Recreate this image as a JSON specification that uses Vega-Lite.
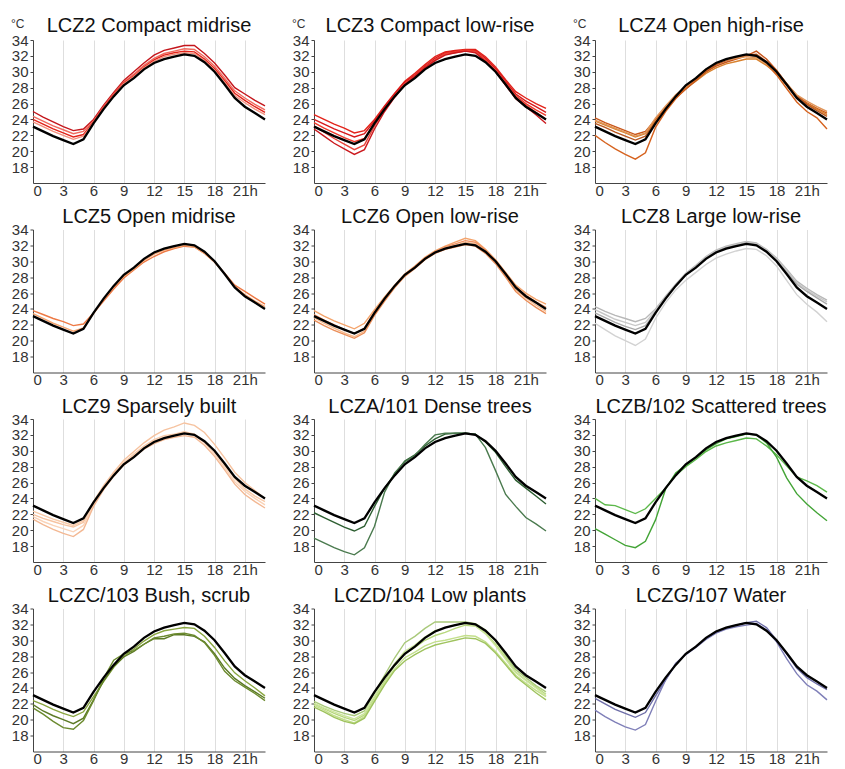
{
  "$schema": "https://vega.github.io/schema/vega-lite/v6.json",
  "background": "white",
  "padding": {"left": 11, "top": 16, "right": 0, "bottom": 0},
  "columns": 3,
  "spacing": {"row": 8.5, "column": 22},
  "resolve": {"scale": {"color": "independent"}},
  "config": {
    "view": {"stroke": null},
    "font": "Liberation Sans",
    "title": {"fontSize": 20, "fontWeight": "normal", "color": "#111", "offset": -4.5},
    "axis": {"labelFontSize": 15, "labelColor": "#333", "domainColor": "#444", "tickColor": "#444", "labelPadding": 2, "title": null},
    "axisX": {"grid": true, "gridColor": "#dedede", "ticks": false, "labelPadding": 0},
    "axisY": {"grid": false, "tickSize": 3},
    "line": {"strokeWidth": 1.4}
  },
  "datasets": {
    "ref": [{"h":0,"t":23.1},{"h":1,"t":22.5},{"h":2,"t":21.9},{"h":3,"t":21.4},{"h":4,"t":20.9},{"h":5,"t":21.5},{"h":6,"t":23.5},{"h":7,"t":25.3},{"h":8,"t":26.9},{"h":9,"t":28.3},{"h":10,"t":29.2},{"h":11,"t":30.3},{"h":12,"t":31.1},{"h":13,"t":31.6},{"h":14,"t":31.9},{"h":15,"t":32.2},{"h":16,"t":32.0},{"h":17,"t":31.2},{"h":18,"t":30.0},{"h":19,"t":28.4},{"h":20,"t":26.7},{"h":21,"t":25.6},{"h":22,"t":24.8},{"h":23,"t":24.0}],
    "unit": [{"u": "°C", "ux": 0, "uy": 34}],
    "st": [
{"z":"2","s":"2a","h":0,"t":25.0},{"z":"2","s":"2a","h":1,"t":24.3},{"z":"2","s":"2a","h":2,"t":23.7},{"z":"2","s":"2a","h":3,"t":23.1},{"z":"2","s":"2a","h":4,"t":22.6},{"z":"2","s":"2a","h":5,"t":22.8},{"z":"2","s":"2a","h":6,"t":24.0},{"z":"2","s":"2a","h":7,"t":25.8},{"z":"2","s":"2a","h":8,"t":27.4},{"z":"2","s":"2a","h":9,"t":28.9},{"z":"2","s":"2a","h":10,"t":30.0},{"z":"2","s":"2a","h":11,"t":31.1},{"z":"2","s":"2a","h":12,"t":32.1},{"z":"2","s":"2a","h":13,"t":32.7},{"z":"2","s":"2a","h":14,"t":33.0},{"z":"2","s":"2a","h":15,"t":33.3},{"z":"2","s":"2a","h":16,"t":33.3},{"z":"2","s":"2a","h":17,"t":32.3},{"z":"2","s":"2a","h":18,"t":31.1},{"z":"2","s":"2a","h":19,"t":29.6},{"z":"2","s":"2a","h":20,"t":28.0},{"z":"2","s":"2a","h":21,"t":27.2},{"z":"2","s":"2a","h":22,"t":26.4},{"z":"2","s":"2a","h":23,"t":25.7},
{"z":"2","s":"2b","h":0,"t":24.4},{"z":"2","s":"2b","h":1,"t":23.8},{"z":"2","s":"2b","h":2,"t":23.2},{"z":"2","s":"2b","h":3,"t":22.7},{"z":"2","s":"2b","h":4,"t":22.2},{"z":"2","s":"2b","h":5,"t":22.5},{"z":"2","s":"2b","h":6,"t":23.8},{"z":"2","s":"2b","h":7,"t":25.6},{"z":"2","s":"2b","h":8,"t":27.2},{"z":"2","s":"2b","h":9,"t":28.7},{"z":"2","s":"2b","h":10,"t":29.7},{"z":"2","s":"2b","h":11,"t":30.8},{"z":"2","s":"2b","h":12,"t":31.7},{"z":"2","s":"2b","h":13,"t":32.3},{"z":"2","s":"2b","h":14,"t":32.6},{"z":"2","s":"2b","h":15,"t":32.9},{"z":"2","s":"2b","h":16,"t":32.8},{"z":"2","s":"2b","h":17,"t":31.9},{"z":"2","s":"2b","h":18,"t":30.7},{"z":"2","s":"2b","h":19,"t":29.2},{"z":"2","s":"2b","h":20,"t":27.6},{"z":"2","s":"2b","h":21,"t":26.7},{"z":"2","s":"2b","h":22,"t":25.9},{"z":"2","s":"2b","h":23,"t":25.2},
{"z":"2","s":"2c","h":0,"t":24.0},{"z":"2","s":"2c","h":1,"t":23.4},{"z":"2","s":"2c","h":2,"t":22.8},{"z":"2","s":"2c","h":3,"t":22.3},{"z":"2","s":"2c","h":4,"t":21.8},{"z":"2","s":"2c","h":5,"t":22.1},{"z":"2","s":"2c","h":6,"t":23.7},{"z":"2","s":"2c","h":7,"t":25.5},{"z":"2","s":"2c","h":8,"t":27.1},{"z":"2","s":"2c","h":9,"t":28.6},{"z":"2","s":"2c","h":10,"t":29.5},{"z":"2","s":"2c","h":11,"t":30.6},{"z":"2","s":"2c","h":12,"t":31.5},{"z":"2","s":"2c","h":13,"t":32.1},{"z":"2","s":"2c","h":14,"t":32.4},{"z":"2","s":"2c","h":15,"t":32.6},{"z":"2","s":"2c","h":16,"t":32.5},{"z":"2","s":"2c","h":17,"t":31.6},{"z":"2","s":"2c","h":18,"t":30.4},{"z":"2","s":"2c","h":19,"t":28.9},{"z":"2","s":"2c","h":20,"t":27.3},{"z":"2","s":"2c","h":21,"t":26.4},{"z":"2","s":"2c","h":22,"t":25.6},{"z":"2","s":"2c","h":23,"t":24.9},
{"z":"2","s":"2d","h":0,"t":23.7},{"z":"2","s":"2d","h":1,"t":23.1},{"z":"2","s":"2d","h":2,"t":22.5},{"z":"2","s":"2d","h":3,"t":22.0},{"z":"2","s":"2d","h":4,"t":21.5},{"z":"2","s":"2d","h":5,"t":21.9},{"z":"2","s":"2d","h":6,"t":23.6},{"z":"2","s":"2d","h":7,"t":25.4},{"z":"2","s":"2d","h":8,"t":27.0},{"z":"2","s":"2d","h":9,"t":28.5},{"z":"2","s":"2d","h":10,"t":29.4},{"z":"2","s":"2d","h":11,"t":30.5},{"z":"2","s":"2d","h":12,"t":31.3},{"z":"2","s":"2d","h":13,"t":31.9},{"z":"2","s":"2d","h":14,"t":32.2},{"z":"2","s":"2d","h":15,"t":32.4},{"z":"2","s":"2d","h":16,"t":32.3},{"z":"2","s":"2d","h":17,"t":31.4},{"z":"2","s":"2d","h":18,"t":30.2},{"z":"2","s":"2d","h":19,"t":28.7},{"z":"2","s":"2d","h":20,"t":27.0},{"z":"2","s":"2d","h":21,"t":26.1},{"z":"2","s":"2d","h":22,"t":25.3},{"z":"2","s":"2d","h":23,"t":24.6},
{"z":"3","s":"3a","h":0,"t":24.6},{"z":"3","s":"3a","h":1,"t":24.0},{"z":"3","s":"3a","h":2,"t":23.4},{"z":"3","s":"3a","h":3,"t":22.9},{"z":"3","s":"3a","h":4,"t":22.3},{"z":"3","s":"3a","h":5,"t":22.6},{"z":"3","s":"3a","h":6,"t":24.0},{"z":"3","s":"3a","h":7,"t":25.7},{"z":"3","s":"3a","h":8,"t":27.3},{"z":"3","s":"3a","h":9,"t":28.8},{"z":"3","s":"3a","h":10,"t":29.8},{"z":"3","s":"3a","h":11,"t":30.9},{"z":"3","s":"3a","h":12,"t":31.9},{"z":"3","s":"3a","h":13,"t":32.5},{"z":"3","s":"3a","h":14,"t":32.7},{"z":"3","s":"3a","h":15,"t":32.8},{"z":"3","s":"3a","h":16,"t":32.8},{"z":"3","s":"3a","h":17,"t":31.9},{"z":"3","s":"3a","h":18,"t":30.6},{"z":"3","s":"3a","h":19,"t":29.0},{"z":"3","s":"3a","h":20,"t":27.5},{"z":"3","s":"3a","h":21,"t":26.7},{"z":"3","s":"3a","h":22,"t":26.0},{"z":"3","s":"3a","h":23,"t":25.4},
{"z":"3","s":"3b","h":0,"t":24.0},{"z":"3","s":"3b","h":1,"t":23.4},{"z":"3","s":"3b","h":2,"t":22.8},{"z":"3","s":"3b","h":3,"t":22.3},{"z":"3","s":"3b","h":4,"t":21.8},{"z":"3","s":"3b","h":5,"t":22.2},{"z":"3","s":"3b","h":6,"t":23.8},{"z":"3","s":"3b","h":7,"t":25.6},{"z":"3","s":"3b","h":8,"t":27.2},{"z":"3","s":"3b","h":9,"t":28.7},{"z":"3","s":"3b","h":10,"t":29.6},{"z":"3","s":"3b","h":11,"t":30.7},{"z":"3","s":"3b","h":12,"t":31.7},{"z":"3","s":"3b","h":13,"t":32.4},{"z":"3","s":"3b","h":14,"t":32.6},{"z":"3","s":"3b","h":15,"t":32.7},{"z":"3","s":"3b","h":16,"t":32.7},{"z":"3","s":"3b","h":17,"t":31.7},{"z":"3","s":"3b","h":18,"t":30.4},{"z":"3","s":"3b","h":19,"t":28.8},{"z":"3","s":"3b","h":20,"t":27.2},{"z":"3","s":"3b","h":21,"t":26.3},{"z":"3","s":"3b","h":22,"t":25.6},{"z":"3","s":"3b","h":23,"t":24.9},
{"z":"3","s":"3c","h":0,"t":23.6},{"z":"3","s":"3c","h":1,"t":22.9},{"z":"3","s":"3c","h":2,"t":22.3},{"z":"3","s":"3c","h":3,"t":21.7},{"z":"3","s":"3c","h":4,"t":21.2},{"z":"3","s":"3c","h":5,"t":21.6},{"z":"3","s":"3c","h":6,"t":23.6},{"z":"3","s":"3c","h":7,"t":25.4},{"z":"3","s":"3c","h":8,"t":27.0},{"z":"3","s":"3c","h":9,"t":28.5},{"z":"3","s":"3c","h":10,"t":29.5},{"z":"3","s":"3c","h":11,"t":30.6},{"z":"3","s":"3c","h":12,"t":31.5},{"z":"3","s":"3c","h":13,"t":32.3},{"z":"3","s":"3c","h":14,"t":32.5},{"z":"3","s":"3c","h":15,"t":32.7},{"z":"3","s":"3c","h":16,"t":32.6},{"z":"3","s":"3c","h":17,"t":31.5},{"z":"3","s":"3c","h":18,"t":30.2},{"z":"3","s":"3c","h":19,"t":28.6},{"z":"3","s":"3c","h":20,"t":27.0},{"z":"3","s":"3c","h":21,"t":26.0},{"z":"3","s":"3c","h":22,"t":25.2},{"z":"3","s":"3c","h":23,"t":24.5},
{"z":"3","s":"3d","h":0,"t":23.2},{"z":"3","s":"3d","h":1,"t":22.4},{"z":"3","s":"3d","h":2,"t":21.6},{"z":"3","s":"3d","h":3,"t":20.9},{"z":"3","s":"3d","h":4,"t":20.2},{"z":"3","s":"3d","h":5,"t":20.8},{"z":"3","s":"3d","h":6,"t":23.2},{"z":"3","s":"3d","h":7,"t":25.2},{"z":"3","s":"3d","h":8,"t":26.9},{"z":"3","s":"3d","h":9,"t":28.5},{"z":"3","s":"3d","h":10,"t":29.4},{"z":"3","s":"3d","h":11,"t":30.5},{"z":"3","s":"3d","h":12,"t":31.5},{"z":"3","s":"3d","h":13,"t":32.2},{"z":"3","s":"3d","h":14,"t":32.4},{"z":"3","s":"3d","h":15,"t":32.6},{"z":"3","s":"3d","h":16,"t":32.5},{"z":"3","s":"3d","h":17,"t":31.4},{"z":"3","s":"3d","h":18,"t":30.1},{"z":"3","s":"3d","h":19,"t":28.5},{"z":"3","s":"3d","h":20,"t":26.8},{"z":"3","s":"3d","h":21,"t":25.8},{"z":"3","s":"3d","h":22,"t":24.9},{"z":"3","s":"3d","h":23,"t":24.0},
{"z":"3","s":"3e","h":0,"t":22.8},{"z":"3","s":"3e","h":1,"t":21.9},{"z":"3","s":"3e","h":2,"t":21.0},{"z":"3","s":"3e","h":3,"t":20.3},{"z":"3","s":"3e","h":4,"t":19.6},{"z":"3","s":"3e","h":5,"t":20.2},{"z":"3","s":"3e","h":6,"t":22.8},{"z":"3","s":"3e","h":7,"t":25.0},{"z":"3","s":"3e","h":8,"t":26.8},{"z":"3","s":"3e","h":9,"t":28.4},{"z":"3","s":"3e","h":10,"t":29.4},{"z":"3","s":"3e","h":11,"t":30.5},{"z":"3","s":"3e","h":12,"t":31.4},{"z":"3","s":"3e","h":13,"t":32.1},{"z":"3","s":"3e","h":14,"t":32.4},{"z":"3","s":"3e","h":15,"t":32.6},{"z":"3","s":"3e","h":16,"t":32.4},{"z":"3","s":"3e","h":17,"t":31.3},{"z":"3","s":"3e","h":18,"t":30.0},{"z":"3","s":"3e","h":19,"t":28.3},{"z":"3","s":"3e","h":20,"t":26.6},{"z":"3","s":"3e","h":21,"t":25.6},{"z":"3","s":"3e","h":22,"t":24.6},{"z":"3","s":"3e","h":23,"t":23.5},
{"z":"4","s":"4a","h":0,"t":24.2},{"z":"4","s":"4a","h":1,"t":23.6},{"z":"4","s":"4a","h":2,"t":23.1},{"z":"4","s":"4a","h":3,"t":22.6},{"z":"4","s":"4a","h":4,"t":22.1},{"z":"4","s":"4a","h":5,"t":22.5},{"z":"4","s":"4a","h":6,"t":24.0},{"z":"4","s":"4a","h":7,"t":25.5},{"z":"4","s":"4a","h":8,"t":26.9},{"z":"4","s":"4a","h":9,"t":28.0},{"z":"4","s":"4a","h":10,"t":29.0},{"z":"4","s":"4a","h":11,"t":30.0},{"z":"4","s":"4a","h":12,"t":30.7},{"z":"4","s":"4a","h":13,"t":31.2},{"z":"4","s":"4a","h":14,"t":31.6},{"z":"4","s":"4a","h":15,"t":32.0},{"z":"4","s":"4a","h":16,"t":32.6},{"z":"4","s":"4a","h":17,"t":31.6},{"z":"4","s":"4a","h":18,"t":30.2},{"z":"4","s":"4a","h":19,"t":28.5},{"z":"4","s":"4a","h":20,"t":27.0},{"z":"4","s":"4a","h":21,"t":26.1},{"z":"4","s":"4a","h":22,"t":25.4},{"z":"4","s":"4a","h":23,"t":24.8},
{"z":"4","s":"4b","h":0,"t":23.8},{"z":"4","s":"4b","h":1,"t":23.3},{"z":"4","s":"4b","h":2,"t":22.8},{"z":"4","s":"4b","h":3,"t":22.3},{"z":"4","s":"4b","h":4,"t":21.8},{"z":"4","s":"4b","h":5,"t":22.2},{"z":"4","s":"4b","h":6,"t":23.8},{"z":"4","s":"4b","h":7,"t":25.3},{"z":"4","s":"4b","h":8,"t":26.8},{"z":"4","s":"4b","h":9,"t":27.9},{"z":"4","s":"4b","h":10,"t":28.8},{"z":"4","s":"4b","h":11,"t":29.8},{"z":"4","s":"4b","h":12,"t":30.5},{"z":"4","s":"4b","h":13,"t":31.0},{"z":"4","s":"4b","h":14,"t":31.3},{"z":"4","s":"4b","h":15,"t":31.6},{"z":"4","s":"4b","h":16,"t":31.6},{"z":"4","s":"4b","h":17,"t":30.8},{"z":"4","s":"4b","h":18,"t":29.8},{"z":"4","s":"4b","h":19,"t":28.3},{"z":"4","s":"4b","h":20,"t":26.9},{"z":"4","s":"4b","h":21,"t":26.0},{"z":"4","s":"4b","h":22,"t":25.3},{"z":"4","s":"4b","h":23,"t":24.6},
{"z":"4","s":"4c","h":0,"t":23.5},{"z":"4","s":"4c","h":1,"t":23.0},{"z":"4","s":"4c","h":2,"t":22.4},{"z":"4","s":"4c","h":3,"t":21.9},{"z":"4","s":"4c","h":4,"t":21.4},{"z":"4","s":"4c","h":5,"t":21.9},{"z":"4","s":"4c","h":6,"t":23.7},{"z":"4","s":"4c","h":7,"t":25.2},{"z":"4","s":"4c","h":8,"t":26.7},{"z":"4","s":"4c","h":9,"t":27.8},{"z":"4","s":"4c","h":10,"t":28.9},{"z":"4","s":"4c","h":11,"t":30.0},{"z":"4","s":"4c","h":12,"t":30.9},{"z":"4","s":"4c","h":13,"t":31.4},{"z":"4","s":"4c","h":14,"t":31.8},{"z":"4","s":"4c","h":15,"t":32.1},{"z":"4","s":"4c","h":16,"t":32.2},{"z":"4","s":"4c","h":17,"t":31.3},{"z":"4","s":"4c","h":18,"t":30.1},{"z":"4","s":"4c","h":19,"t":28.5},{"z":"4","s":"4c","h":20,"t":27.0},{"z":"4","s":"4c","h":21,"t":25.9},{"z":"4","s":"4c","h":22,"t":25.1},{"z":"4","s":"4c","h":23,"t":24.4},
{"z":"4","s":"4d","h":0,"t":22.0},{"z":"4","s":"4d","h":1,"t":21.1},{"z":"4","s":"4d","h":2,"t":20.3},{"z":"4","s":"4d","h":3,"t":19.6},{"z":"4","s":"4d","h":4,"t":19.0},{"z":"4","s":"4d","h":5,"t":19.8},{"z":"4","s":"4d","h":6,"t":23.0},{"z":"4","s":"4d","h":7,"t":25.0},{"z":"4","s":"4d","h":8,"t":26.6},{"z":"4","s":"4d","h":9,"t":27.9},{"z":"4","s":"4d","h":10,"t":29.0},{"z":"4","s":"4d","h":11,"t":30.1},{"z":"4","s":"4d","h":12,"t":31.0},{"z":"4","s":"4d","h":13,"t":31.5},{"z":"4","s":"4d","h":14,"t":31.8},{"z":"4","s":"4d","h":15,"t":32.1},{"z":"4","s":"4d","h":16,"t":32.0},{"z":"4","s":"4d","h":17,"t":31.0},{"z":"4","s":"4d","h":18,"t":29.6},{"z":"4","s":"4d","h":19,"t":27.9},{"z":"4","s":"4d","h":20,"t":26.2},{"z":"4","s":"4d","h":21,"t":25.0},{"z":"4","s":"4d","h":22,"t":24.2},{"z":"4","s":"4d","h":23,"t":22.8},
{"z":"4","s":"4e","h":0,"t":23.9},{"z":"4","s":"4e","h":1,"t":23.4},{"z":"4","s":"4e","h":2,"t":22.9},{"z":"4","s":"4e","h":3,"t":22.4},{"z":"4","s":"4e","h":4,"t":21.9},{"z":"4","s":"4e","h":5,"t":22.3},{"z":"4","s":"4e","h":6,"t":24.2},{"z":"4","s":"4e","h":7,"t":25.7},{"z":"4","s":"4e","h":8,"t":27.1},{"z":"4","s":"4e","h":9,"t":28.1},{"z":"4","s":"4e","h":10,"t":29.2},{"z":"4","s":"4e","h":11,"t":30.3},{"z":"4","s":"4e","h":12,"t":31.1},{"z":"4","s":"4e","h":13,"t":31.5},{"z":"4","s":"4e","h":14,"t":31.7},{"z":"4","s":"4e","h":15,"t":31.9},{"z":"4","s":"4e","h":16,"t":31.8},{"z":"4","s":"4e","h":17,"t":31.0},{"z":"4","s":"4e","h":18,"t":29.9},{"z":"4","s":"4e","h":19,"t":28.5},{"z":"4","s":"4e","h":20,"t":27.1},{"z":"4","s":"4e","h":21,"t":26.3},{"z":"4","s":"4e","h":22,"t":25.6},{"z":"4","s":"4e","h":23,"t":25.0},
{"z":"5","s":"5a","h":0,"t":23.8},{"z":"5","s":"5a","h":1,"t":23.3},{"z":"5","s":"5a","h":2,"t":22.8},{"z":"5","s":"5a","h":3,"t":22.4},{"z":"5","s":"5a","h":4,"t":21.9},{"z":"5","s":"5a","h":5,"t":22.1},{"z":"5","s":"5a","h":6,"t":23.5},{"z":"5","s":"5a","h":7,"t":25.0},{"z":"5","s":"5a","h":8,"t":26.5},{"z":"5","s":"5a","h":9,"t":27.9},{"z":"5","s":"5a","h":10,"t":28.9},{"z":"5","s":"5a","h":11,"t":29.9},{"z":"5","s":"5a","h":12,"t":30.6},{"z":"5","s":"5a","h":13,"t":31.2},{"z":"5","s":"5a","h":14,"t":31.6},{"z":"5","s":"5a","h":15,"t":31.9},{"z":"5","s":"5a","h":16,"t":31.8},{"z":"5","s":"5a","h":17,"t":31.0},{"z":"5","s":"5a","h":18,"t":29.9},{"z":"5","s":"5a","h":19,"t":28.5},{"z":"5","s":"5a","h":20,"t":27.0},{"z":"5","s":"5a","h":21,"t":26.2},{"z":"5","s":"5a","h":22,"t":25.4},{"z":"5","s":"5a","h":23,"t":24.6},
{"z":"5","s":"5b","h":0,"t":23.4},{"z":"5","s":"5b","h":1,"t":22.8},{"z":"5","s":"5b","h":2,"t":22.2},{"z":"5","s":"5b","h":3,"t":21.7},{"z":"5","s":"5b","h":4,"t":21.2},{"z":"5","s":"5b","h":5,"t":21.6},{"z":"5","s":"5b","h":6,"t":23.4},{"z":"5","s":"5b","h":7,"t":25.2},{"z":"5","s":"5b","h":8,"t":26.8},{"z":"5","s":"5b","h":9,"t":28.1},{"z":"5","s":"5b","h":10,"t":29.0},{"z":"5","s":"5b","h":11,"t":30.1},{"z":"5","s":"5b","h":12,"t":30.9},{"z":"5","s":"5b","h":13,"t":31.4},{"z":"5","s":"5b","h":14,"t":31.7},{"z":"5","s":"5b","h":15,"t":32.0},{"z":"5","s":"5b","h":16,"t":31.8},{"z":"5","s":"5b","h":17,"t":31.0},{"z":"5","s":"5b","h":18,"t":29.9},{"z":"5","s":"5b","h":19,"t":28.4},{"z":"5","s":"5b","h":20,"t":26.8},{"z":"5","s":"5b","h":21,"t":25.8},{"z":"5","s":"5b","h":22,"t":25.0},{"z":"5","s":"5b","h":23,"t":24.3},
{"z":"6","s":"6a","h":0,"t":23.8},{"z":"6","s":"6a","h":1,"t":23.1},{"z":"6","s":"6a","h":2,"t":22.5},{"z":"6","s":"6a","h":3,"t":22.0},{"z":"6","s":"6a","h":4,"t":21.5},{"z":"6","s":"6a","h":5,"t":22.2},{"z":"6","s":"6a","h":6,"t":23.9},{"z":"6","s":"6a","h":7,"t":25.5},{"z":"6","s":"6a","h":8,"t":27.0},{"z":"6","s":"6a","h":9,"t":28.4},{"z":"6","s":"6a","h":10,"t":29.4},{"z":"6","s":"6a","h":11,"t":30.5},{"z":"6","s":"6a","h":12,"t":31.3},{"z":"6","s":"6a","h":13,"t":31.9},{"z":"6","s":"6a","h":14,"t":32.4},{"z":"6","s":"6a","h":15,"t":32.9},{"z":"6","s":"6a","h":16,"t":32.6},{"z":"6","s":"6a","h":17,"t":31.5},{"z":"6","s":"6a","h":18,"t":30.2},{"z":"6","s":"6a","h":19,"t":28.6},{"z":"6","s":"6a","h":20,"t":27.0},{"z":"6","s":"6a","h":21,"t":26.0},{"z":"6","s":"6a","h":22,"t":25.2},{"z":"6","s":"6a","h":23,"t":24.6},
{"z":"6","s":"6b","h":0,"t":23.3},{"z":"6","s":"6b","h":1,"t":22.6},{"z":"6","s":"6b","h":2,"t":22.0},{"z":"6","s":"6b","h":3,"t":21.4},{"z":"6","s":"6b","h":4,"t":20.9},{"z":"6","s":"6b","h":5,"t":21.6},{"z":"6","s":"6b","h":6,"t":23.6},{"z":"6","s":"6b","h":7,"t":25.3},{"z":"6","s":"6b","h":8,"t":26.9},{"z":"6","s":"6b","h":9,"t":28.3},{"z":"6","s":"6b","h":10,"t":29.3},{"z":"6","s":"6b","h":11,"t":30.4},{"z":"6","s":"6b","h":12,"t":31.2},{"z":"6","s":"6b","h":13,"t":31.8},{"z":"6","s":"6b","h":14,"t":32.2},{"z":"6","s":"6b","h":15,"t":32.6},{"z":"6","s":"6b","h":16,"t":32.4},{"z":"6","s":"6b","h":17,"t":31.4},{"z":"6","s":"6b","h":18,"t":30.1},{"z":"6","s":"6b","h":19,"t":28.4},{"z":"6","s":"6b","h":20,"t":26.8},{"z":"6","s":"6b","h":21,"t":25.7},{"z":"6","s":"6b","h":22,"t":24.9},{"z":"6","s":"6b","h":23,"t":24.2},
{"z":"6","s":"6c","h":0,"t":22.9},{"z":"6","s":"6c","h":1,"t":22.2},{"z":"6","s":"6c","h":2,"t":21.6},{"z":"6","s":"6c","h":3,"t":21.0},{"z":"6","s":"6c","h":4,"t":20.5},{"z":"6","s":"6c","h":5,"t":21.2},{"z":"6","s":"6c","h":6,"t":23.3},{"z":"6","s":"6c","h":7,"t":25.1},{"z":"6","s":"6c","h":8,"t":26.8},{"z":"6","s":"6c","h":9,"t":28.2},{"z":"6","s":"6c","h":10,"t":29.2},{"z":"6","s":"6c","h":11,"t":30.3},{"z":"6","s":"6c","h":12,"t":31.1},{"z":"6","s":"6c","h":13,"t":31.7},{"z":"6","s":"6c","h":14,"t":32.0},{"z":"6","s":"6c","h":15,"t":32.4},{"z":"6","s":"6c","h":16,"t":32.2},{"z":"6","s":"6c","h":17,"t":31.2},{"z":"6","s":"6c","h":18,"t":29.9},{"z":"6","s":"6c","h":19,"t":28.2},{"z":"6","s":"6c","h":20,"t":26.4},{"z":"6","s":"6c","h":21,"t":25.4},{"z":"6","s":"6c","h":22,"t":24.5},{"z":"6","s":"6c","h":23,"t":23.7},
{"z":"6","s":"6d","h":0,"t":22.6},{"z":"6","s":"6d","h":1,"t":21.9},{"z":"6","s":"6d","h":2,"t":21.3},{"z":"6","s":"6d","h":3,"t":20.8},{"z":"6","s":"6d","h":4,"t":20.3},{"z":"6","s":"6d","h":5,"t":21.0},{"z":"6","s":"6d","h":6,"t":23.2},{"z":"6","s":"6d","h":7,"t":25.0},{"z":"6","s":"6d","h":8,"t":26.7},{"z":"6","s":"6d","h":9,"t":28.1},{"z":"6","s":"6d","h":10,"t":29.1},{"z":"6","s":"6d","h":11,"t":30.2},{"z":"6","s":"6d","h":12,"t":31.0},{"z":"6","s":"6d","h":13,"t":31.5},{"z":"6","s":"6d","h":14,"t":31.8},{"z":"6","s":"6d","h":15,"t":32.1},{"z":"6","s":"6d","h":16,"t":31.9},{"z":"6","s":"6d","h":17,"t":31.0},{"z":"6","s":"6d","h":18,"t":29.7},{"z":"6","s":"6d","h":19,"t":28.0},{"z":"6","s":"6d","h":20,"t":26.2},{"z":"6","s":"6d","h":21,"t":25.1},{"z":"6","s":"6d","h":22,"t":24.2},{"z":"6","s":"6d","h":23,"t":23.4},
{"z":"8","s":"8a","h":0,"t":24.3},{"z":"8","s":"8a","h":1,"t":23.7},{"z":"8","s":"8a","h":2,"t":23.2},{"z":"8","s":"8a","h":3,"t":22.8},{"z":"8","s":"8a","h":4,"t":22.4},{"z":"8","s":"8a","h":5,"t":22.8},{"z":"8","s":"8a","h":6,"t":24.0},{"z":"8","s":"8a","h":7,"t":25.6},{"z":"8","s":"8a","h":8,"t":27.1},{"z":"8","s":"8a","h":9,"t":28.5},{"z":"8","s":"8a","h":10,"t":29.5},{"z":"8","s":"8a","h":11,"t":30.6},{"z":"8","s":"8a","h":12,"t":31.4},{"z":"8","s":"8a","h":13,"t":31.9},{"z":"8","s":"8a","h":14,"t":32.2},{"z":"8","s":"8a","h":15,"t":32.5},{"z":"8","s":"8a","h":16,"t":32.3},{"z":"8","s":"8a","h":17,"t":31.5},{"z":"8","s":"8a","h":18,"t":30.4},{"z":"8","s":"8a","h":19,"t":29.0},{"z":"8","s":"8a","h":20,"t":27.5},{"z":"8","s":"8a","h":21,"t":26.6},{"z":"8","s":"8a","h":22,"t":25.8},{"z":"8","s":"8a","h":23,"t":25.1},
{"z":"8","s":"8b","h":0,"t":23.9},{"z":"8","s":"8b","h":1,"t":23.3},{"z":"8","s":"8b","h":2,"t":22.7},{"z":"8","s":"8b","h":3,"t":22.3},{"z":"8","s":"8b","h":4,"t":21.9},{"z":"8","s":"8b","h":5,"t":22.3},{"z":"8","s":"8b","h":6,"t":23.8},{"z":"8","s":"8b","h":7,"t":25.4},{"z":"8","s":"8b","h":8,"t":27.0},{"z":"8","s":"8b","h":9,"t":28.4},{"z":"8","s":"8b","h":10,"t":29.4},{"z":"8","s":"8b","h":11,"t":30.5},{"z":"8","s":"8b","h":12,"t":31.3},{"z":"8","s":"8b","h":13,"t":31.8},{"z":"8","s":"8b","h":14,"t":32.1},{"z":"8","s":"8b","h":15,"t":32.4},{"z":"8","s":"8b","h":16,"t":32.2},{"z":"8","s":"8b","h":17,"t":31.4},{"z":"8","s":"8b","h":18,"t":30.3},{"z":"8","s":"8b","h":19,"t":28.8},{"z":"8","s":"8b","h":20,"t":27.3},{"z":"8","s":"8b","h":21,"t":26.4},{"z":"8","s":"8b","h":22,"t":25.6},{"z":"8","s":"8b","h":23,"t":24.9},
{"z":"8","s":"8c","h":0,"t":23.5},{"z":"8","s":"8c","h":1,"t":22.9},{"z":"8","s":"8c","h":2,"t":22.3},{"z":"8","s":"8c","h":3,"t":21.8},{"z":"8","s":"8c","h":4,"t":21.4},{"z":"8","s":"8c","h":5,"t":21.9},{"z":"8","s":"8c","h":6,"t":23.6},{"z":"8","s":"8c","h":7,"t":25.3},{"z":"8","s":"8c","h":8,"t":26.9},{"z":"8","s":"8c","h":9,"t":28.3},{"z":"8","s":"8c","h":10,"t":29.3},{"z":"8","s":"8c","h":11,"t":30.4},{"z":"8","s":"8c","h":12,"t":31.2},{"z":"8","s":"8c","h":13,"t":31.7},{"z":"8","s":"8c","h":14,"t":32.0},{"z":"8","s":"8c","h":15,"t":32.3},{"z":"8","s":"8c","h":16,"t":32.1},{"z":"8","s":"8c","h":17,"t":31.3},{"z":"8","s":"8c","h":18,"t":30.1},{"z":"8","s":"8c","h":19,"t":28.6},{"z":"8","s":"8c","h":20,"t":27.1},{"z":"8","s":"8c","h":21,"t":26.2},{"z":"8","s":"8c","h":22,"t":25.4},{"z":"8","s":"8c","h":23,"t":24.6},
{"z":"8","s":"8d","h":0,"t":22.2},{"z":"8","s":"8d","h":1,"t":21.4},{"z":"8","s":"8d","h":2,"t":20.6},{"z":"8","s":"8d","h":3,"t":20.0},{"z":"8","s":"8d","h":4,"t":19.4},{"z":"8","s":"8d","h":5,"t":20.2},{"z":"8","s":"8d","h":6,"t":22.8},{"z":"8","s":"8d","h":7,"t":24.8},{"z":"8","s":"8d","h":8,"t":26.4},{"z":"8","s":"8d","h":9,"t":27.6},{"z":"8","s":"8d","h":10,"t":28.6},{"z":"8","s":"8d","h":11,"t":29.6},{"z":"8","s":"8d","h":12,"t":30.4},{"z":"8","s":"8d","h":13,"t":30.9},{"z":"8","s":"8d","h":14,"t":31.3},{"z":"8","s":"8d","h":15,"t":31.6},{"z":"8","s":"8d","h":16,"t":31.5},{"z":"8","s":"8d","h":17,"t":30.7},{"z":"8","s":"8d","h":18,"t":29.4},{"z":"8","s":"8d","h":19,"t":27.6},{"z":"8","s":"8d","h":20,"t":25.8},{"z":"8","s":"8d","h":21,"t":24.6},{"z":"8","s":"8d","h":22,"t":23.6},{"z":"8","s":"8d","h":23,"t":22.4},
{"z":"9","s":"9a","h":0,"t":22.0},{"z":"9","s":"9a","h":1,"t":21.5},{"z":"9","s":"9a","h":2,"t":21.1},{"z":"9","s":"9a","h":3,"t":20.7},{"z":"9","s":"9a","h":4,"t":20.4},{"z":"9","s":"9a","h":5,"t":21.0},{"z":"9","s":"9a","h":6,"t":23.6},{"z":"9","s":"9a","h":7,"t":25.6},{"z":"9","s":"9a","h":8,"t":27.3},{"z":"9","s":"9a","h":9,"t":28.8},{"z":"9","s":"9a","h":10,"t":29.9},{"z":"9","s":"9a","h":11,"t":31.0},{"z":"9","s":"9a","h":12,"t":31.9},{"z":"9","s":"9a","h":13,"t":32.6},{"z":"9","s":"9a","h":14,"t":33.0},{"z":"9","s":"9a","h":15,"t":33.5},{"z":"9","s":"9a","h":16,"t":33.2},{"z":"9","s":"9a","h":17,"t":32.3},{"z":"9","s":"9a","h":18,"t":30.8},{"z":"9","s":"9a","h":19,"t":29.1},{"z":"9","s":"9a","h":20,"t":27.3},{"z":"9","s":"9a","h":21,"t":26.0},{"z":"9","s":"9a","h":22,"t":25.0},{"z":"9","s":"9a","h":23,"t":24.0},
{"z":"9","s":"9b","h":0,"t":21.7},{"z":"9","s":"9b","h":1,"t":21.1},{"z":"9","s":"9b","h":2,"t":20.6},{"z":"9","s":"9b","h":3,"t":20.2},{"z":"9","s":"9b","h":4,"t":19.8},{"z":"9","s":"9b","h":5,"t":20.6},{"z":"9","s":"9b","h":6,"t":23.3},{"z":"9","s":"9b","h":7,"t":25.3},{"z":"9","s":"9b","h":8,"t":27.0},{"z":"9","s":"9b","h":9,"t":28.4},{"z":"9","s":"9b","h":10,"t":29.4},{"z":"9","s":"9b","h":11,"t":30.4},{"z":"9","s":"9b","h":12,"t":31.2},{"z":"9","s":"9b","h":13,"t":31.7},{"z":"9","s":"9b","h":14,"t":32.0},{"z":"9","s":"9b","h":15,"t":32.3},{"z":"9","s":"9b","h":16,"t":32.0},{"z":"9","s":"9b","h":17,"t":31.0},{"z":"9","s":"9b","h":18,"t":29.6},{"z":"9","s":"9b","h":19,"t":27.9},{"z":"9","s":"9b","h":20,"t":26.1},{"z":"9","s":"9b","h":21,"t":24.9},{"z":"9","s":"9b","h":22,"t":24.0},{"z":"9","s":"9b","h":23,"t":23.2},
{"z":"9","s":"9c","h":0,"t":21.4},{"z":"9","s":"9c","h":1,"t":20.7},{"z":"9","s":"9c","h":2,"t":20.1},{"z":"9","s":"9c","h":3,"t":19.6},{"z":"9","s":"9c","h":4,"t":19.2},{"z":"9","s":"9c","h":5,"t":20.1},{"z":"9","s":"9c","h":6,"t":23.0},{"z":"9","s":"9c","h":7,"t":25.1},{"z":"9","s":"9c","h":8,"t":26.8},{"z":"9","s":"9c","h":9,"t":28.2},{"z":"9","s":"9c","h":10,"t":29.2},{"z":"9","s":"9c","h":11,"t":30.2},{"z":"9","s":"9c","h":12,"t":30.9},{"z":"9","s":"9c","h":13,"t":31.4},{"z":"9","s":"9c","h":14,"t":31.7},{"z":"9","s":"9c","h":15,"t":31.9},{"z":"9","s":"9c","h":16,"t":31.7},{"z":"9","s":"9c","h":17,"t":30.7},{"z":"9","s":"9c","h":18,"t":29.3},{"z":"9","s":"9c","h":19,"t":27.6},{"z":"9","s":"9c","h":20,"t":25.8},{"z":"9","s":"9c","h":21,"t":24.5},{"z":"9","s":"9c","h":22,"t":23.6},{"z":"9","s":"9c","h":23,"t":22.8},
{"z":"9","s":"9d","h":0,"t":22.4},{"z":"9","s":"9d","h":1,"t":21.9},{"z":"9","s":"9d","h":2,"t":21.4},{"z":"9","s":"9d","h":3,"t":21.0},{"z":"9","s":"9d","h":4,"t":20.6},{"z":"9","s":"9d","h":5,"t":21.2},{"z":"9","s":"9d","h":6,"t":23.4},{"z":"9","s":"9d","h":7,"t":25.4},{"z":"9","s":"9d","h":8,"t":27.1},{"z":"9","s":"9d","h":9,"t":28.5},{"z":"9","s":"9d","h":10,"t":29.6},{"z":"9","s":"9d","h":11,"t":30.6},{"z":"9","s":"9d","h":12,"t":31.4},{"z":"9","s":"9d","h":13,"t":31.9},{"z":"9","s":"9d","h":14,"t":32.1},{"z":"9","s":"9d","h":15,"t":32.4},{"z":"9","s":"9d","h":16,"t":32.1},{"z":"9","s":"9d","h":17,"t":31.2},{"z":"9","s":"9d","h":18,"t":29.9},{"z":"9","s":"9d","h":19,"t":28.2},{"z":"9","s":"9d","h":20,"t":26.5},{"z":"9","s":"9d","h":21,"t":25.2},{"z":"9","s":"9d","h":22,"t":24.3},{"z":"9","s":"9d","h":23,"t":23.6},
{"z":"A","s":"Aa","h":0,"t":22.2},{"z":"A","s":"Aa","h":1,"t":21.6},{"z":"A","s":"Aa","h":2,"t":21.0},{"z":"A","s":"Aa","h":3,"t":20.4},{"z":"A","s":"Aa","h":4,"t":19.9},{"z":"A","s":"Aa","h":5,"t":20.5},{"z":"A","s":"Aa","h":6,"t":23.0},{"z":"A","s":"Aa","h":7,"t":25.3},{"z":"A","s":"Aa","h":8,"t":27.1},{"z":"A","s":"Aa","h":9,"t":28.7},{"z":"A","s":"Aa","h":10,"t":29.5},{"z":"A","s":"Aa","h":11,"t":30.6},{"z":"A","s":"Aa","h":12,"t":31.5},{"z":"A","s":"Aa","h":13,"t":32.1},{"z":"A","s":"Aa","h":14,"t":32.2},{"z":"A","s":"Aa","h":15,"t":32.2},{"z":"A","s":"Aa","h":16,"t":32.1},{"z":"A","s":"Aa","h":17,"t":31.1},{"z":"A","s":"Aa","h":18,"t":29.8},{"z":"A","s":"Aa","h":19,"t":28.0},{"z":"A","s":"Aa","h":20,"t":26.3},{"z":"A","s":"Aa","h":21,"t":25.3},{"z":"A","s":"Aa","h":22,"t":24.3},{"z":"A","s":"Aa","h":23,"t":23.3},
{"z":"A","s":"Ab","h":0,"t":19.0},{"z":"A","s":"Ab","h":1,"t":18.4},{"z":"A","s":"Ab","h":2,"t":17.8},{"z":"A","s":"Ab","h":3,"t":17.3},{"z":"A","s":"Ab","h":4,"t":16.9},{"z":"A","s":"Ab","h":5,"t":17.8},{"z":"A","s":"Ab","h":6,"t":20.5},{"z":"A","s":"Ab","h":7,"t":24.8},{"z":"A","s":"Ab","h":8,"t":27.2},{"z":"A","s":"Ab","h":9,"t":28.6},{"z":"A","s":"Ab","h":10,"t":29.4},{"z":"A","s":"Ab","h":11,"t":30.8},{"z":"A","s":"Ab","h":12,"t":32.0},{"z":"A","s":"Ab","h":13,"t":32.2},{"z":"A","s":"Ab","h":14,"t":32.2},{"z":"A","s":"Ab","h":15,"t":32.2},{"z":"A","s":"Ab","h":16,"t":32.1},{"z":"A","s":"Ab","h":17,"t":30.4},{"z":"A","s":"Ab","h":18,"t":27.5},{"z":"A","s":"Ab","h":19,"t":24.5},{"z":"A","s":"Ab","h":20,"t":23.0},{"z":"A","s":"Ab","h":21,"t":21.6},{"z":"A","s":"Ab","h":22,"t":20.8},{"z":"A","s":"Ab","h":23,"t":19.9},
{"z":"B","s":"Ba","h":0,"t":24.0},{"z":"B","s":"Ba","h":1,"t":23.2},{"z":"B","s":"Ba","h":2,"t":23.1},{"z":"B","s":"Ba","h":3,"t":22.6},{"z":"B","s":"Ba","h":4,"t":22.1},{"z":"B","s":"Ba","h":5,"t":22.7},{"z":"B","s":"Ba","h":6,"t":24.0},{"z":"B","s":"Ba","h":7,"t":25.3},{"z":"B","s":"Ba","h":8,"t":26.9},{"z":"B","s":"Ba","h":9,"t":28.0},{"z":"B","s":"Ba","h":10,"t":28.9},{"z":"B","s":"Ba","h":11,"t":29.9},{"z":"B","s":"Ba","h":12,"t":30.6},{"z":"B","s":"Ba","h":13,"t":31.0},{"z":"B","s":"Ba","h":14,"t":31.3},{"z":"B","s":"Ba","h":15,"t":31.6},{"z":"B","s":"Ba","h":16,"t":31.5},{"z":"B","s":"Ba","h":17,"t":30.6},{"z":"B","s":"Ba","h":18,"t":29.5},{"z":"B","s":"Ba","h":19,"t":28.1},{"z":"B","s":"Ba","h":20,"t":26.7},{"z":"B","s":"Ba","h":21,"t":26.2},{"z":"B","s":"Ba","h":22,"t":25.6},{"z":"B","s":"Ba","h":23,"t":24.8},
{"z":"B","s":"Bb","h":0,"t":20.2},{"z":"B","s":"Bb","h":1,"t":19.5},{"z":"B","s":"Bb","h":2,"t":18.8},{"z":"B","s":"Bb","h":3,"t":18.1},{"z":"B","s":"Bb","h":4,"t":17.8},{"z":"B","s":"Bb","h":5,"t":18.6},{"z":"B","s":"Bb","h":6,"t":21.3},{"z":"B","s":"Bb","h":7,"t":25.2},{"z":"B","s":"Bb","h":8,"t":27.2},{"z":"B","s":"Bb","h":9,"t":28.2},{"z":"B","s":"Bb","h":10,"t":29.1},{"z":"B","s":"Bb","h":11,"t":30.1},{"z":"B","s":"Bb","h":12,"t":30.9},{"z":"B","s":"Bb","h":13,"t":31.5},{"z":"B","s":"Bb","h":14,"t":31.8},{"z":"B","s":"Bb","h":15,"t":32.1},{"z":"B","s":"Bb","h":16,"t":32.0},{"z":"B","s":"Bb","h":17,"t":31.0},{"z":"B","s":"Bb","h":18,"t":29.2},{"z":"B","s":"Bb","h":19,"t":26.6},{"z":"B","s":"Bb","h":20,"t":24.6},{"z":"B","s":"Bb","h":21,"t":23.3},{"z":"B","s":"Bb","h":22,"t":22.2},{"z":"B","s":"Bb","h":23,"t":21.2},
{"z":"C","s":"Ca","h":0,"t":22.4},{"z":"C","s":"Ca","h":1,"t":21.9},{"z":"C","s":"Ca","h":2,"t":21.3},{"z":"C","s":"Ca","h":3,"t":20.8},{"z":"C","s":"Ca","h":4,"t":20.4},{"z":"C","s":"Ca","h":5,"t":21.0},{"z":"C","s":"Ca","h":6,"t":22.9},{"z":"C","s":"Ca","h":7,"t":24.8},{"z":"C","s":"Ca","h":8,"t":26.6},{"z":"C","s":"Ca","h":9,"t":28.0},{"z":"C","s":"Ca","h":10,"t":28.9},{"z":"C","s":"Ca","h":11,"t":29.9},{"z":"C","s":"Ca","h":12,"t":30.7},{"z":"C","s":"Ca","h":13,"t":31.2},{"z":"C","s":"Ca","h":14,"t":31.4},{"z":"C","s":"Ca","h":15,"t":31.6},{"z":"C","s":"Ca","h":16,"t":31.5},{"z":"C","s":"Ca","h":17,"t":30.5},{"z":"C","s":"Ca","h":18,"t":29.1},{"z":"C","s":"Ca","h":19,"t":27.4},{"z":"C","s":"Ca","h":20,"t":25.9},{"z":"C","s":"Ca","h":21,"t":24.9},{"z":"C","s":"Ca","h":22,"t":24.0},{"z":"C","s":"Ca","h":23,"t":23.0},
{"z":"C","s":"Cb","h":0,"t":21.9},{"z":"C","s":"Cb","h":1,"t":21.1},{"z":"C","s":"Cb","h":2,"t":20.5},{"z":"C","s":"Cb","h":3,"t":20.0},{"z":"C","s":"Cb","h":4,"t":19.5},{"z":"C","s":"Cb","h":5,"t":20.2},{"z":"C","s":"Cb","h":6,"t":22.5},{"z":"C","s":"Cb","h":7,"t":24.9},{"z":"C","s":"Cb","h":8,"t":26.7},{"z":"C","s":"Cb","h":9,"t":27.9},{"z":"C","s":"Cb","h":10,"t":28.6},{"z":"C","s":"Cb","h":11,"t":29.5},{"z":"C","s":"Cb","h":12,"t":30.2},{"z":"C","s":"Cb","h":13,"t":30.2},{"z":"C","s":"Cb","h":14,"t":30.7},{"z":"C","s":"Cb","h":15,"t":30.7},{"z":"C","s":"Cb","h":16,"t":30.5},{"z":"C","s":"Cb","h":17,"t":29.8},{"z":"C","s":"Cb","h":18,"t":28.3},{"z":"C","s":"Cb","h":19,"t":26.5},{"z":"C","s":"Cb","h":20,"t":25.2},{"z":"C","s":"Cb","h":21,"t":24.3},{"z":"C","s":"Cb","h":22,"t":23.5},{"z":"C","s":"Cb","h":23,"t":22.7},
{"z":"C","s":"Cc","h":0,"t":21.5},{"z":"C","s":"Cc","h":1,"t":20.7},{"z":"C","s":"Cc","h":2,"t":19.8},{"z":"C","s":"Cc","h":3,"t":19.0},{"z":"C","s":"Cc","h":4,"t":18.8},{"z":"C","s":"Cc","h":5,"t":19.9},{"z":"C","s":"Cc","h":6,"t":22.4},{"z":"C","s":"Cc","h":7,"t":25.2},{"z":"C","s":"Cc","h":8,"t":27.5},{"z":"C","s":"Cc","h":9,"t":28.3},{"z":"C","s":"Cc","h":10,"t":28.7},{"z":"C","s":"Cc","h":11,"t":29.5},{"z":"C","s":"Cc","h":12,"t":30.3},{"z":"C","s":"Cc","h":13,"t":30.5},{"z":"C","s":"Cc","h":14,"t":30.8},{"z":"C","s":"Cc","h":15,"t":30.9},{"z":"C","s":"Cc","h":16,"t":30.6},{"z":"C","s":"Cc","h":17,"t":29.7},{"z":"C","s":"Cc","h":18,"t":28.1},{"z":"C","s":"Cc","h":19,"t":26.1},{"z":"C","s":"Cc","h":20,"t":24.9},{"z":"C","s":"Cc","h":21,"t":24.1},{"z":"C","s":"Cc","h":22,"t":23.3},{"z":"C","s":"Cc","h":23,"t":22.4},
{"z":"D","s":"Da","h":0,"t":22.3},{"z":"D","s":"Da","h":1,"t":21.7},{"z":"D","s":"Da","h":2,"t":21.2},{"z":"D","s":"Da","h":3,"t":20.8},{"z":"D","s":"Da","h":4,"t":20.5},{"z":"D","s":"Da","h":5,"t":21.1},{"z":"D","s":"Da","h":6,"t":23.4},{"z":"D","s":"Da","h":7,"t":25.6},{"z":"D","s":"Da","h":8,"t":27.8},{"z":"D","s":"Da","h":9,"t":29.7},{"z":"D","s":"Da","h":10,"t":30.5},{"z":"D","s":"Da","h":11,"t":31.5},{"z":"D","s":"Da","h":12,"t":32.3},{"z":"D","s":"Da","h":13,"t":32.3},{"z":"D","s":"Da","h":14,"t":32.3},{"z":"D","s":"Da","h":15,"t":32.3},{"z":"D","s":"Da","h":16,"t":32.1},{"z":"D","s":"Da","h":17,"t":31.3},{"z":"D","s":"Da","h":18,"t":29.9},{"z":"D","s":"Da","h":19,"t":28.1},{"z":"D","s":"Da","h":20,"t":26.3},{"z":"D","s":"Da","h":21,"t":25.3},{"z":"D","s":"Da","h":22,"t":24.3},{"z":"D","s":"Da","h":23,"t":23.5},
{"z":"D","s":"Db","h":0,"t":22.0},{"z":"D","s":"Db","h":1,"t":21.4},{"z":"D","s":"Db","h":2,"t":20.8},{"z":"D","s":"Db","h":3,"t":20.3},{"z":"D","s":"Db","h":4,"t":19.9},{"z":"D","s":"Db","h":5,"t":20.6},{"z":"D","s":"Db","h":6,"t":22.8},{"z":"D","s":"Db","h":7,"t":24.9},{"z":"D","s":"Db","h":8,"t":26.8},{"z":"D","s":"Db","h":9,"t":28.3},{"z":"D","s":"Db","h":10,"t":29.1},{"z":"D","s":"Db","h":11,"t":30.0},{"z":"D","s":"Db","h":12,"t":30.6},{"z":"D","s":"Db","h":13,"t":31.0},{"z":"D","s":"Db","h":14,"t":31.5},{"z":"D","s":"Db","h":15,"t":31.9},{"z":"D","s":"Db","h":16,"t":31.8},{"z":"D","s":"Db","h":17,"t":30.9},{"z":"D","s":"Db","h":18,"t":29.5},{"z":"D","s":"Db","h":19,"t":27.8},{"z":"D","s":"Db","h":20,"t":26.0},{"z":"D","s":"Db","h":21,"t":25.0},{"z":"D","s":"Db","h":22,"t":24.1},{"z":"D","s":"Db","h":23,"t":23.2},
{"z":"D","s":"Dc","h":0,"t":21.8},{"z":"D","s":"Dc","h":1,"t":21.2},{"z":"D","s":"Dc","h":2,"t":20.5},{"z":"D","s":"Dc","h":3,"t":20.0},{"z":"D","s":"Dc","h":4,"t":19.6},{"z":"D","s":"Dc","h":5,"t":20.4},{"z":"D","s":"Dc","h":6,"t":22.5},{"z":"D","s":"Dc","h":7,"t":24.6},{"z":"D","s":"Dc","h":8,"t":26.4},{"z":"D","s":"Dc","h":9,"t":27.8},{"z":"D","s":"Dc","h":10,"t":28.5},{"z":"D","s":"Dc","h":11,"t":29.3},{"z":"D","s":"Dc","h":12,"t":29.8},{"z":"D","s":"Dc","h":13,"t":30.0},{"z":"D","s":"Dc","h":14,"t":30.3},{"z":"D","s":"Dc","h":15,"t":30.6},{"z":"D","s":"Dc","h":16,"t":30.5},{"z":"D","s":"Dc","h":17,"t":29.8},{"z":"D","s":"Dc","h":18,"t":28.6},{"z":"D","s":"Dc","h":19,"t":27.1},{"z":"D","s":"Dc","h":20,"t":25.6},{"z":"D","s":"Dc","h":21,"t":24.6},{"z":"D","s":"Dc","h":22,"t":23.7},{"z":"D","s":"Dc","h":23,"t":22.9},
{"z":"D","s":"Dd","h":0,"t":21.6},{"z":"D","s":"Dd","h":1,"t":21.0},{"z":"D","s":"Dd","h":2,"t":20.3},{"z":"D","s":"Dd","h":3,"t":19.8},{"z":"D","s":"Dd","h":4,"t":19.5},{"z":"D","s":"Dd","h":5,"t":20.2},{"z":"D","s":"Dd","h":6,"t":22.3},{"z":"D","s":"Dd","h":7,"t":24.4},{"z":"D","s":"Dd","h":8,"t":26.2},{"z":"D","s":"Dd","h":9,"t":27.4},{"z":"D","s":"Dd","h":10,"t":28.2},{"z":"D","s":"Dd","h":11,"t":28.9},{"z":"D","s":"Dd","h":12,"t":29.4},{"z":"D","s":"Dd","h":13,"t":29.7},{"z":"D","s":"Dd","h":14,"t":30.0},{"z":"D","s":"Dd","h":15,"t":30.3},{"z":"D","s":"Dd","h":16,"t":30.2},{"z":"D","s":"Dd","h":17,"t":29.6},{"z":"D","s":"Dd","h":18,"t":28.4},{"z":"D","s":"Dd","h":19,"t":26.9},{"z":"D","s":"Dd","h":20,"t":25.4},{"z":"D","s":"Dd","h":21,"t":24.4},{"z":"D","s":"Dd","h":22,"t":23.4},{"z":"D","s":"Dd","h":23,"t":22.5},
{"z":"D","s":"De","h":0,"t":22.1},{"z":"D","s":"De","h":1,"t":21.5},{"z":"D","s":"De","h":2,"t":21.0},{"z":"D","s":"De","h":3,"t":20.5},{"z":"D","s":"De","h":4,"t":20.1},{"z":"D","s":"De","h":5,"t":20.8},{"z":"D","s":"De","h":6,"t":23.0},{"z":"D","s":"De","h":7,"t":25.1},{"z":"D","s":"De","h":8,"t":27.1},{"z":"D","s":"De","h":9,"t":28.6},{"z":"D","s":"De","h":10,"t":29.4},{"z":"D","s":"De","h":11,"t":30.4},{"z":"D","s":"De","h":12,"t":31.2},{"z":"D","s":"De","h":13,"t":31.6},{"z":"D","s":"De","h":14,"t":31.9},{"z":"D","s":"De","h":15,"t":32.1},{"z":"D","s":"De","h":16,"t":31.8},{"z":"D","s":"De","h":17,"t":30.8},{"z":"D","s":"De","h":18,"t":29.3},{"z":"D","s":"De","h":19,"t":27.6},{"z":"D","s":"De","h":20,"t":25.9},{"z":"D","s":"De","h":21,"t":24.9},{"z":"D","s":"De","h":22,"t":24.0},{"z":"D","s":"De","h":23,"t":23.0},
{"z":"G","s":"Ga","h":0,"t":22.7},{"z":"G","s":"Ga","h":1,"t":22.0},{"z":"G","s":"Ga","h":2,"t":21.3},{"z":"G","s":"Ga","h":3,"t":20.8},{"z":"G","s":"Ga","h":4,"t":20.3},{"z":"G","s":"Ga","h":5,"t":20.9},{"z":"G","s":"Ga","h":6,"t":23.0},{"z":"G","s":"Ga","h":7,"t":25.0},{"z":"G","s":"Ga","h":8,"t":27.0},{"z":"G","s":"Ga","h":9,"t":28.3},{"z":"G","s":"Ga","h":10,"t":29.2},{"z":"G","s":"Ga","h":11,"t":30.2},{"z":"G","s":"Ga","h":12,"t":31.0},{"z":"G","s":"Ga","h":13,"t":31.5},{"z":"G","s":"Ga","h":14,"t":31.9},{"z":"G","s":"Ga","h":15,"t":32.2},{"z":"G","s":"Ga","h":16,"t":32.4},{"z":"G","s":"Ga","h":17,"t":31.6},{"z":"G","s":"Ga","h":18,"t":30.0},{"z":"G","s":"Ga","h":19,"t":28.3},{"z":"G","s":"Ga","h":20,"t":26.5},{"z":"G","s":"Ga","h":21,"t":25.3},{"z":"G","s":"Ga","h":22,"t":24.5},{"z":"G","s":"Ga","h":23,"t":23.8},
{"z":"G","s":"Gb","h":0,"t":21.2},{"z":"G","s":"Gb","h":1,"t":20.4},{"z":"G","s":"Gb","h":2,"t":19.7},{"z":"G","s":"Gb","h":3,"t":19.1},{"z":"G","s":"Gb","h":4,"t":18.7},{"z":"G","s":"Gb","h":5,"t":19.4},{"z":"G","s":"Gb","h":6,"t":22.3},{"z":"G","s":"Gb","h":7,"t":25.0},{"z":"G","s":"Gb","h":8,"t":27.1},{"z":"G","s":"Gb","h":9,"t":28.2},{"z":"G","s":"Gb","h":10,"t":29.1},{"z":"G","s":"Gb","h":11,"t":30.1},{"z":"G","s":"Gb","h":12,"t":30.9},{"z":"G","s":"Gb","h":13,"t":31.4},{"z":"G","s":"Gb","h":14,"t":31.7},{"z":"G","s":"Gb","h":15,"t":31.9},{"z":"G","s":"Gb","h":16,"t":32.1},{"z":"G","s":"Gb","h":17,"t":31.3},{"z":"G","s":"Gb","h":18,"t":29.8},{"z":"G","s":"Gb","h":19,"t":27.7},{"z":"G","s":"Gb","h":20,"t":25.8},{"z":"G","s":"Gb","h":21,"t":24.4},{"z":"G","s":"Gb","h":22,"t":23.6},{"z":"G","s":"Gb","h":23,"t":22.5}
    ]
  },
  "concat": [
    {"title": {"text": "LCZ2 Compact midrise", "offset": -18}, "width": 232, "height": 143,
     "encoding": {"x": {"field": "h", "type": "quantitative", "scale": {"domain": [0, 23], "nice": false}, "axis": {"values": [0,3,6,9,12,15,18,21], "labelExpr": "datum.value == 21 ? '21h' : datum.label"}},
                  "y": {"field": "t", "type": "quantitative", "scale": {"domain": [16, 34], "nice": false}, "axis": {"values": [18,20,22,24,26,28,30,32,34]}}},
     "layer": [
       {"data": {"name": "st"}, "transform": [{"filter": "datum.z == '2'"}], "mark": "line", "encoding": {"color": {"field": "s", "type": "nominal", "legend": null, "scale": {"range": ["#c4161c", "#f06a5e", "#e3241b", "#f3917f"]}}}},
       {"data": {"name": "ref"}, "mark": {"type": "line", "color": "#000", "strokeWidth": 2.3}},
       {"data": {"name": "unit"}, "mark": {"type": "text", "align": "left", "baseline": "bottom", "dx": -22, "dy": -9, "fontSize": 12, "color": "#333"}, "encoding": {"x": {"field": "ux", "type": "quantitative"}, "y": {"field": "uy", "type": "quantitative"}, "text": {"field": "u", "type": "nominal"}}}
     ]},
    {"title": {"text": "LCZ3 Compact low-rise", "offset": -18}, "width": 232, "height": 143,
     "encoding": {"x": {"field": "h", "type": "quantitative", "scale": {"domain": [0, 23], "nice": false}, "axis": {"values": [0,3,6,9,12,15,18,21], "labelExpr": "datum.value == 21 ? '21h' : datum.label"}},
                  "y": {"field": "t", "type": "quantitative", "scale": {"domain": [16, 34], "nice": false}, "axis": {"values": [18,20,22,24,26,28,30,32,34]}}},
     "layer": [
       {"data": {"name": "st"}, "transform": [{"filter": "datum.z == '3'"}], "mark": "line", "encoding": {"color": {"field": "s", "type": "nominal", "legend": null, "scale": {"range": ["#e3241b", "#d7191c", "#ef3b2c", "#e8453c", "#cb181d"]}}}},
       {"data": {"name": "ref"}, "mark": {"type": "line", "color": "#000", "strokeWidth": 2.3}},
       {"data": {"name": "unit"}, "mark": {"type": "text", "align": "left", "baseline": "bottom", "dx": -22, "dy": -9, "fontSize": 12, "color": "#333"}, "encoding": {"x": {"field": "ux", "type": "quantitative"}, "y": {"field": "uy", "type": "quantitative"}, "text": {"field": "u", "type": "nominal"}}}
     ]},
    {"title": {"text": "LCZ4 Open high-rise", "offset": -18}, "width": 232, "height": 143,
     "encoding": {"x": {"field": "h", "type": "quantitative", "scale": {"domain": [0, 23], "nice": false}, "axis": {"values": [0,3,6,9,12,15,18,21], "labelExpr": "datum.value == 21 ? '21h' : datum.label"}},
                  "y": {"field": "t", "type": "quantitative", "scale": {"domain": [16, 34], "nice": false}, "axis": {"values": [18,20,22,24,26,28,30,32,34]}}},
     "layer": [
       {"data": {"name": "st"}, "transform": [{"filter": "datum.z == '4'"}], "mark": "line", "encoding": {"color": {"field": "s", "type": "nominal", "legend": null, "scale": {"range": ["#c8561b", "#d9822e", "#b8561f", "#d6621e", "#e0965a"]}}}},
       {"data": {"name": "ref"}, "mark": {"type": "line", "color": "#000", "strokeWidth": 2.3}},
       {"data": {"name": "unit"}, "mark": {"type": "text", "align": "left", "baseline": "bottom", "dx": -22, "dy": -9, "fontSize": 12, "color": "#333"}, "encoding": {"x": {"field": "ux", "type": "quantitative"}, "y": {"field": "uy", "type": "quantitative"}, "text": {"field": "u", "type": "nominal"}}}
     ]},
    {"title": "LCZ5 Open midrise", "width": 232, "height": 143,
     "encoding": {"x": {"field": "h", "type": "quantitative", "scale": {"domain": [0, 23], "nice": false}, "axis": {"values": [0,3,6,9,12,15,18,21], "labelExpr": "datum.value == 21 ? '21h' : datum.label"}},
                  "y": {"field": "t", "type": "quantitative", "scale": {"domain": [16, 34], "nice": false}, "axis": {"values": [18,20,22,24,26,28,30,32,34]}}},
     "layer": [
       {"data": {"name": "st"}, "transform": [{"filter": "datum.z == '5'"}], "mark": "line", "encoding": {"color": {"field": "s", "type": "nominal", "legend": null, "scale": {"range": ["#ee7a45", "#f5a36e"]}}}},
       {"data": {"name": "ref"}, "mark": {"type": "line", "color": "#000", "strokeWidth": 2.3}}
     ]},
    {"title": "LCZ6 Open low-rise", "width": 232, "height": 143,
     "encoding": {"x": {"field": "h", "type": "quantitative", "scale": {"domain": [0, 23], "nice": false}, "axis": {"values": [0,3,6,9,12,15,18,21], "labelExpr": "datum.value == 21 ? '21h' : datum.label"}},
                  "y": {"field": "t", "type": "quantitative", "scale": {"domain": [16, 34], "nice": false}, "axis": {"values": [18,20,22,24,26,28,30,32,34]}}},
     "layer": [
       {"data": {"name": "st"}, "transform": [{"filter": "datum.z == '6'"}], "mark": "line", "encoding": {"color": {"field": "s", "type": "nominal", "legend": null, "scale": {"range": ["#f4a46c", "#f09060", "#f7b98c", "#eb8f5a"]}}}},
       {"data": {"name": "ref"}, "mark": {"type": "line", "color": "#000", "strokeWidth": 2.3}}
     ]},
    {"title": "LCZ8 Large low-rise", "width": 232, "height": 143,
     "encoding": {"x": {"field": "h", "type": "quantitative", "scale": {"domain": [0, 23], "nice": false}, "axis": {"values": [0,3,6,9,12,15,18,21], "labelExpr": "datum.value == 21 ? '21h' : datum.label"}},
                  "y": {"field": "t", "type": "quantitative", "scale": {"domain": [16, 34], "nice": false}, "axis": {"values": [18,20,22,24,26,28,30,32,34]}}},
     "layer": [
       {"data": {"name": "st"}, "transform": [{"filter": "datum.z == '8'"}], "mark": "line", "encoding": {"color": {"field": "s", "type": "nominal", "legend": null, "scale": {"range": ["#b8b8b8", "#c8c8c8", "#a9a9a9", "#d2d2d2"]}}}},
       {"data": {"name": "ref"}, "mark": {"type": "line", "color": "#000", "strokeWidth": 2.3}}
     ]},
    {"title": "LCZ9 Sparsely built", "width": 232, "height": 143,
     "encoding": {"x": {"field": "h", "type": "quantitative", "scale": {"domain": [0, 23], "nice": false}, "axis": {"values": [0,3,6,9,12,15,18,21], "labelExpr": "datum.value == 21 ? '21h' : datum.label"}},
                  "y": {"field": "t", "type": "quantitative", "scale": {"domain": [16, 34], "nice": false}, "axis": {"values": [18,20,22,24,26,28,30,32,34]}}},
     "layer": [
       {"data": {"name": "st"}, "transform": [{"filter": "datum.z == '9'"}], "mark": "line", "encoding": {"color": {"field": "s", "type": "nominal", "legend": null, "scale": {"range": ["#f6c3a0", "#fad3b8", "#f3b893", "#f8caa8"]}}}},
       {"data": {"name": "ref"}, "mark": {"type": "line", "color": "#000", "strokeWidth": 2.3}}
     ]},
    {"title": "LCZA/101 Dense trees", "width": 232, "height": 143,
     "encoding": {"x": {"field": "h", "type": "quantitative", "scale": {"domain": [0, 23], "nice": false}, "axis": {"values": [0,3,6,9,12,15,18,21], "labelExpr": "datum.value == 21 ? '21h' : datum.label"}},
                  "y": {"field": "t", "type": "quantitative", "scale": {"domain": [16, 34], "nice": false}, "axis": {"values": [18,20,22,24,26,28,30,32,34]}}},
     "layer": [
       {"data": {"name": "st"}, "transform": [{"filter": "datum.z == 'A'"}], "mark": "line", "encoding": {"color": {"field": "s", "type": "nominal", "legend": null, "scale": {"range": ["#2d5e31", "#4a7a4e"]}}}},
       {"data": {"name": "ref"}, "mark": {"type": "line", "color": "#000", "strokeWidth": 2.3}}
     ]},
    {"title": "LCZB/102 Scattered trees", "width": 232, "height": 143,
     "encoding": {"x": {"field": "h", "type": "quantitative", "scale": {"domain": [0, 23], "nice": false}, "axis": {"values": [0,3,6,9,12,15,18,21], "labelExpr": "datum.value == 21 ? '21h' : datum.label"}},
                  "y": {"field": "t", "type": "quantitative", "scale": {"domain": [16, 34], "nice": false}, "axis": {"values": [18,20,22,24,26,28,30,32,34]}}},
     "layer": [
       {"data": {"name": "st"}, "transform": [{"filter": "datum.z == 'B'"}], "mark": "line", "encoding": {"color": {"field": "s", "type": "nominal", "legend": null, "scale": {"range": ["#5cb84a", "#43a436"]}}}},
       {"data": {"name": "ref"}, "mark": {"type": "line", "color": "#000", "strokeWidth": 2.3}}
     ]},
    {"title": "LCZC/103 Bush, scrub", "width": 232, "height": 143,
     "encoding": {"x": {"field": "h", "type": "quantitative", "scale": {"domain": [0, 23], "nice": false}, "axis": {"values": [0,3,6,9,12,15,18,21], "labelExpr": "datum.value == 21 ? '21h' : datum.label"}},
                  "y": {"field": "t", "type": "quantitative", "scale": {"domain": [16, 34], "nice": false}, "axis": {"values": [18,20,22,24,26,28,30,32,34]}}},
     "layer": [
       {"data": {"name": "st"}, "transform": [{"filter": "datum.z == 'C'"}], "mark": "line", "encoding": {"color": {"field": "s", "type": "nominal", "legend": null, "scale": {"range": ["#8aa640", "#5c7a25", "#6b8a2e"]}}}},
       {"data": {"name": "ref"}, "mark": {"type": "line", "color": "#000", "strokeWidth": 2.3}}
     ]},
    {"title": "LCZD/104 Low plants", "width": 232, "height": 143,
     "encoding": {"x": {"field": "h", "type": "quantitative", "scale": {"domain": [0, 23], "nice": false}, "axis": {"values": [0,3,6,9,12,15,18,21], "labelExpr": "datum.value == 21 ? '21h' : datum.label"}},
                  "y": {"field": "t", "type": "quantitative", "scale": {"domain": [16, 34], "nice": false}, "axis": {"values": [18,20,22,24,26,28,30,32,34]}}},
     "layer": [
       {"data": {"name": "st"}, "transform": [{"filter": "datum.z == 'D'"}], "mark": "line", "encoding": {"color": {"field": "s", "type": "nominal", "legend": null, "scale": {"range": ["#a9c97a", "#b8d87e", "#c3df8c", "#9fc35e", "#cde69e"]}}}},
       {"data": {"name": "ref"}, "mark": {"type": "line", "color": "#000", "strokeWidth": 2.3}}
     ]},
    {"title": "LCZG/107 Water", "width": 232, "height": 143,
     "encoding": {"x": {"field": "h", "type": "quantitative", "scale": {"domain": [0, 23], "nice": false}, "axis": {"values": [0,3,6,9,12,15,18,21], "labelExpr": "datum.value == 21 ? '21h' : datum.label"}},
                  "y": {"field": "t", "type": "quantitative", "scale": {"domain": [16, 34], "nice": false}, "axis": {"values": [18,20,22,24,26,28,30,32,34]}}},
     "layer": [
       {"data": {"name": "st"}, "transform": [{"filter": "datum.z == 'G'"}], "mark": "line", "encoding": {"color": {"field": "s", "type": "nominal", "legend": null, "scale": {"range": ["#6e6ea8", "#7f7fb8"]}}}},
       {"data": {"name": "ref"}, "mark": {"type": "line", "color": "#000", "strokeWidth": 2.3}}
     ]}
  ]
}
